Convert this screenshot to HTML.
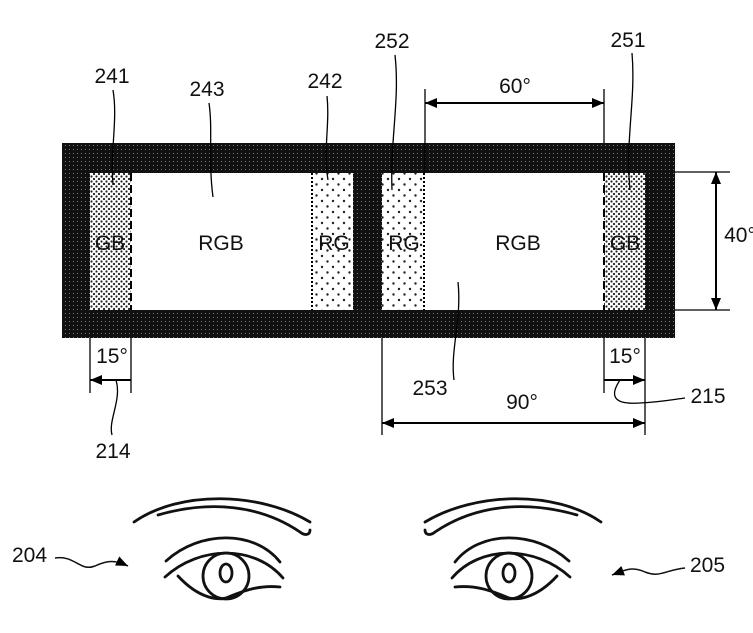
<!DOCTYPE html>
<html><head><meta charset="utf-8"><style>
html,body{margin:0;padding:0;background:#fff}
svg{display:block}
text{font-family:"Liberation Sans",sans-serif;fill:#111}
</style></head><body>
<svg width="753" height="633" viewBox="0 0 753 633" xmlns="http://www.w3.org/2000/svg">
<defs>
<pattern id="dark" width="4" height="4" patternUnits="userSpaceOnUse"><rect width="4" height="4" fill="#111"/><rect x="1" y="1" width="1" height="1" fill="#777"/></pattern>
<pattern id="dense" width="5" height="5" patternUnits="userSpaceOnUse"><rect width="5" height="5" fill="#fff"/><circle cx="1.5" cy="1.5" r="1.1" fill="#222"/><circle cx="4" cy="4" r="1.1" fill="#222"/></pattern>
<pattern id="sparse" width="11" height="11" patternUnits="userSpaceOnUse"><rect width="11" height="11" fill="#fff"/><circle cx="3" cy="3" r="1.2" fill="#222"/><circle cx="8.5" cy="8.5" r="1.2" fill="#222"/></pattern>
<marker id="ah" markerWidth="12" markerHeight="10" refX="12" refY="5" orient="auto" markerUnits="userSpaceOnUse"><path d="M0,0 L12,5 L0,10 z" fill="#000"/></marker>
<marker id="as" markerWidth="12" markerHeight="10" refX="0" refY="5" orient="auto" markerUnits="userSpaceOnUse"><path d="M12,0 L0,5 L12,10 z" fill="#000"/></marker>
</defs>
<rect x="62" y="143" width="613" height="195" fill="url(#dark)"/>
<rect x="90" y="173" width="41" height="137" fill="url(#dense)"/>
<rect x="131" y="173" width="181" height="137" fill="#fff"/>
<rect x="312" y="173" width="41" height="137" fill="url(#sparse)"/>
<line x1="131" y1="173" x2="131" y2="310" stroke="#000" stroke-width="2" stroke-dasharray="8,4"/>
<line x1="312" y1="173" x2="312" y2="310" stroke="#000" stroke-width="2" stroke-dasharray="2,2"/>
<rect x="382" y="173" width="42" height="137" fill="url(#sparse)"/>
<rect x="424" y="173" width="180" height="137" fill="#fff"/>
<rect x="604" y="173" width="41" height="137" fill="url(#dense)"/>
<line x1="424" y1="173" x2="424" y2="310" stroke="#000" stroke-width="2" stroke-dasharray="2,2"/>
<line x1="604" y1="173" x2="604" y2="310" stroke="#000" stroke-width="2" stroke-dasharray="8,4"/>
<g font-size="21" text-anchor="middle">
<text x="110" y="250">GB</text><text x="221" y="250">RGB</text><text x="334" y="250">RG</text>
<text x="404" y="250">RG</text><text x="518" y="250">RGB</text><text x="625" y="250">GB</text>
</g>
<g stroke="#000" stroke-width="1.3" fill="none">
<path d="M113,90 C118,120 110,150 113,185"/>
<path d="M209,103 C213,130 208,160 213,197"/>
<path d="M327,96 C330,125 323,150 328,180"/>
<path d="M395,55 C400,100 390,140 392,190"/>
<path d="M632,53 C636,100 625,140 630,190"/>
<path d="M458,282 C462,320 450,350 454,380"/>
<path d="M116,380 C122,400 108,420 112,435"/>
<path d="M620,380 C610,395 612,405 640,403 C660,402 670,400 685,398"/>
</g>
<g font-size="21" text-anchor="middle">
<text x="112" y="83">241</text><text x="207" y="96">243</text><text x="325" y="88">242</text>
<text x="392" y="48">252</text><text x="628" y="47">251</text>
<text x="430" y="395">253</text><text x="113" y="458">214</text><text x="708" y="403">215</text>
<text x="515" y="93">60°</text><text x="112" y="363">15°</text><text x="625" y="363">15°</text>
<text x="522" y="409">90°</text><text x="740" y="242">40°</text>
</g>
<g stroke="#000" stroke-width="1.3" fill="none">
<line x1="425" y1="89" x2="425" y2="173"/><line x1="604" y1="89" x2="604" y2="143"/>
<line x1="425" y1="103" x2="604" y2="103" stroke-width="2" marker-start="url(#as)" marker-end="url(#ah)"/>
<line x1="675" y1="172" x2="730" y2="172"/><line x1="675" y1="310" x2="730" y2="310"/>
<line x1="716" y1="172" x2="716" y2="310" stroke-width="2" marker-start="url(#as)" marker-end="url(#ah)"/>
<line x1="90" y1="338" x2="90" y2="393"/><line x1="131" y1="338" x2="131" y2="393"/>
<line x1="90" y1="380" x2="131" y2="380" stroke-width="2" marker-start="url(#as)"/>
<line x1="604" y1="338" x2="604" y2="393"/><line x1="645" y1="338" x2="645" y2="435"/>
<line x1="604" y1="380" x2="645" y2="380" stroke-width="2" marker-end="url(#ah)"/>
<line x1="382" y1="338" x2="382" y2="435"/>
<line x1="382" y1="423" x2="645" y2="423" stroke-width="2" marker-start="url(#as)" marker-end="url(#ah)"/>
</g>
<g id="eye" stroke="#111" stroke-width="2.8" fill="none" stroke-linecap="round">
<path d="M134,522 C180,490 260,492 310,522"/>
<path d="M158,515 C210,500 260,505 300,532 C305,536 310,535 310,530"/>
<path d="M166,561 C200,530 255,530 280,562"/>
<path d="M165,577 C200,545 255,545 283,578"/>
<path d="M178,576 C200,600 220,600 226,598 C245,590 260,585 280,587"/>
<ellipse cx="226" cy="576" rx="23" ry="23"/>
<ellipse cx="226" cy="573" rx="6" ry="9"/>
</g>
<use href="#eye" transform="translate(735,0) scale(-1,1)"/>
<g stroke="#111" stroke-width="1.5" fill="none">
<path d="M55,558 C75,555 80,572 95,566 C108,560 115,560 128,566" marker-end="url(#ah)"/>
<path d="M685,568 C665,570 660,578 645,572 C632,566 625,570 612,575" marker-end="url(#ah)"/>
</g>
<g font-size="21"><text x="12" y="562">204</text><text x="690" y="572">205</text></g>
</svg>
</body></html>
